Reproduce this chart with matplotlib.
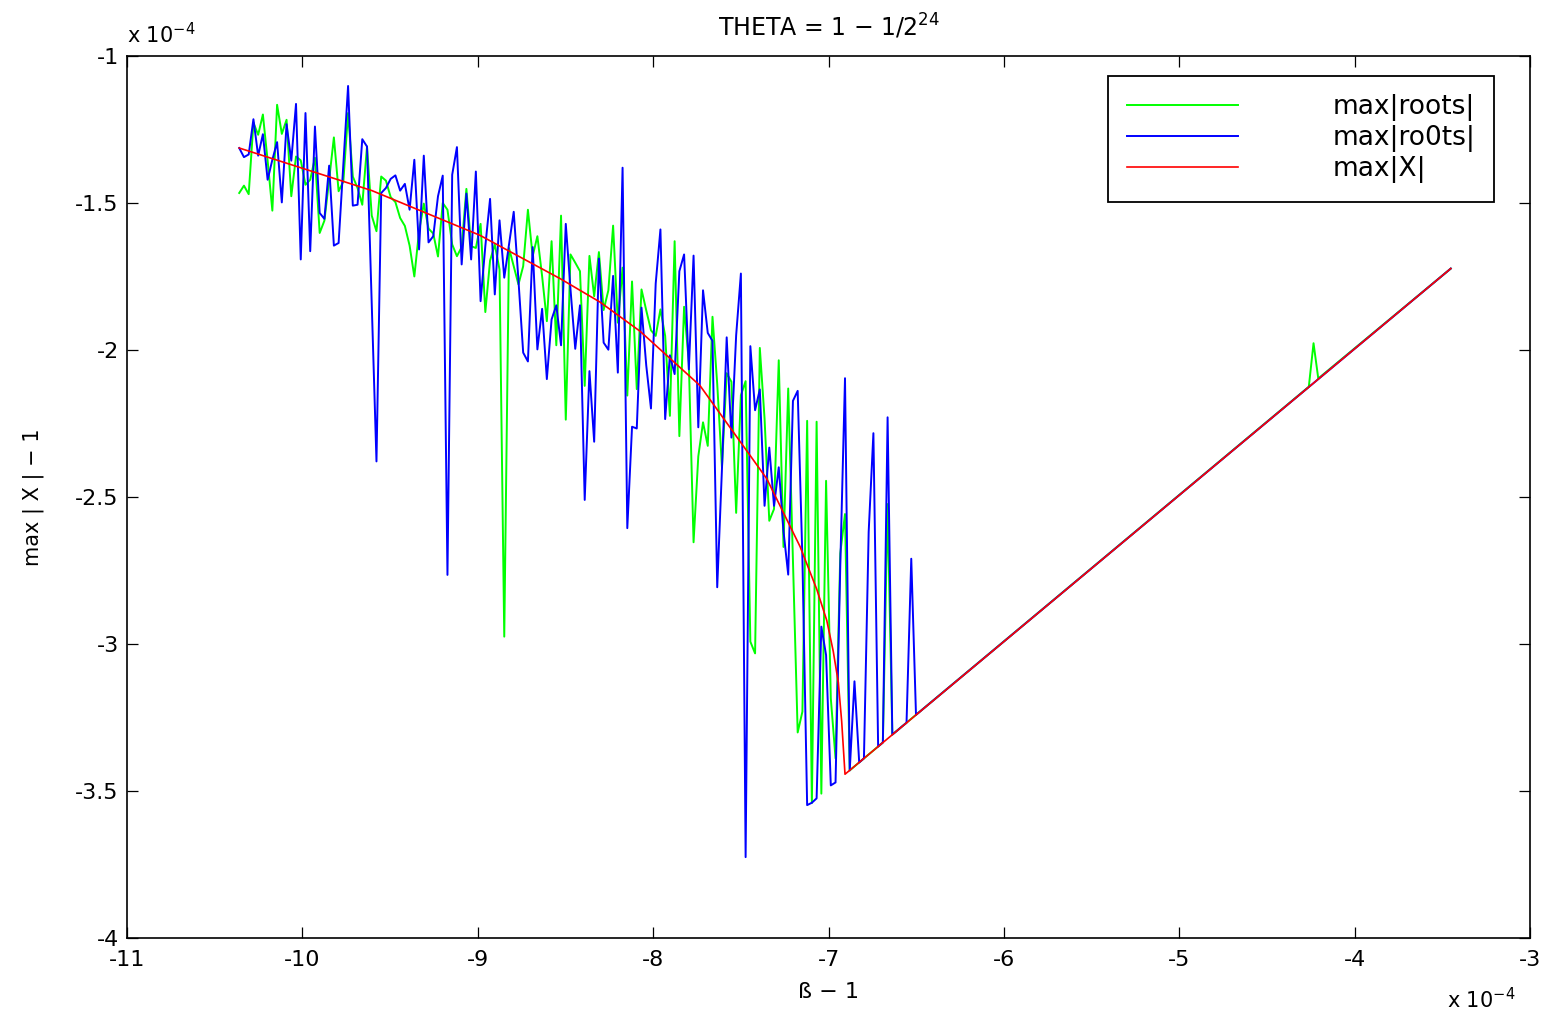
import numpy as np
import matplotlib
matplotlib.use('Agg')
import matplotlib.pyplot as plt

plt.rcParams['font.family'] = ['DejaVu Sans']
plt.rcParams['axes.unicode_minus'] = False
plt.rcParams['mathtext.default'] = 'regular'

# sample grid of (beta - 1), in units of 1e-4
beta = np.linspace(-10.36, -3.452, 257)

# max|roots| - 1 (green), first 129 samples
green_head = [
    -1.466, -1.441, -1.470, -1.227, -1.268, -1.199, -1.356, -1.526, -1.166, -1.265,
    -1.217, -1.477, -1.342, -1.355, -1.438, -1.421, -1.346, -1.602, -1.560, -1.421,
    -1.277, -1.460, -1.427, -1.194, -1.410, -1.449, -1.506, -1.308, -1.543, -1.596,
    -1.410, -1.424, -1.480, -1.497, -1.551, -1.578, -1.645, -1.750, -1.596, -1.502,
    -1.587, -1.604, -1.682, -1.500, -1.523, -1.641, -1.681, -1.650, -1.452, -1.647,
    -1.653, -1.571, -1.871, -1.696, -1.641, -1.726, -2.975, -1.653, -1.715, -1.777,
    -1.715, -1.523, -1.681, -1.613, -1.749, -1.902, -1.630, -1.984, -1.543, -2.237,
    -1.675, -1.703, -1.732, -2.122, -1.680, -1.817, -1.667, -1.864, -1.797, -1.577,
    -1.907, -1.720, -2.155, -1.767, -2.133, -1.794, -1.865, -1.933, -1.952, -1.862,
    -1.952, -2.224, -1.630, -2.293, -1.853, -2.043, -2.654, -2.362, -2.246, -2.326,
    -1.887, -2.116, -2.399, -2.079, -2.108, -2.554, -2.154, -2.106, -2.992, -3.032,
    -1.993, -2.233, -2.581, -2.541, -2.035, -2.670, -2.131, -2.714, -3.301, -3.230,
    -2.241, -3.541, -2.244, -3.509, -2.445, -3.185, -3.389, -2.692, -2.558,
]
# remaining green samples that matter (rest lie on the straight part)
green_tail_idx = [129, 136, 137, 138, 226, 227, 228, 256]
green_tail = [-3.430, -3.335, -2.524, -3.308, -2.125, -1.977, -2.097, -1.723]

# max|ro0ts| - 1 (blue), first 144 samples
blue_head = [
    -1.313, -1.344, -1.335, -1.215, -1.339, -1.266, -1.421, -1.353, -1.293, -1.498,
    -1.232, -1.356, -1.163, -1.692, -1.194, -1.664, -1.240, -1.534, -1.554, -1.373,
    -1.645, -1.636, -1.370, -1.102, -1.509, -1.506, -1.283, -1.308, -1.845, -2.379,
    -1.466, -1.449, -1.418, -1.406, -1.458, -1.435, -1.523, -1.353, -1.658, -1.339,
    -1.634, -1.613, -1.477, -1.407, -2.765, -1.404, -1.310, -1.709, -1.468, -1.692,
    -1.393, -1.834, -1.647, -1.486, -1.811, -1.559, -1.754, -1.641, -1.530, -1.763,
    -2.009, -2.039, -1.650, -1.998, -1.860, -2.099, -1.896, -1.848, -1.984, -1.571,
    -1.794, -1.996, -1.848, -2.510, -2.072, -2.312, -1.689, -1.975, -1.999, -1.748,
    -2.077, -1.380, -2.606, -2.261, -2.267, -1.856, -2.052, -2.199, -1.774, -1.590,
    -2.235, -2.018, -2.082, -1.732, -1.675, -2.066, -1.679, -2.263, -1.797, -1.942,
    -1.969, -2.807, -2.405, -1.957, -2.298, -1.950, -1.740, -3.725, -1.987, -2.205,
    -2.134, -2.530, -2.332, -2.530, -2.399, -2.616, -2.764, -2.173, -2.139, -2.710,
    -3.548, -3.540, -3.525, -2.941, -3.038, -3.481, -3.471, -2.734, -2.096, -3.430,
    -3.127, -3.403, -3.389, -2.619, -2.283, -3.349, -3.335, -2.229, -3.308, -3.295,
    -3.281, -3.268, -2.710, -3.241,
]
blue_tail_idx = [256]
blue_tail = [-1.723]

# max|X| - 1 (red)
red_beta = [-10.36, -9.785, -9.603, -8.987, -8.873, -8.531, -8.303, -8.075, -7.733,
            -7.543, -7.352, -7.162, -7.067, -7.010, -6.973, -6.944, -6.925, -6.906, -3.452]
red_val = [-1.313, -1.423, -1.458, -1.610, -1.647, -1.757, -1.837, -1.936, -2.121,
           -2.279, -2.438, -2.669, -2.814, -2.920, -3.025, -3.131, -3.263, -3.443, -1.723]

green_x = np.concatenate([beta[:len(green_head)], beta[green_tail_idx]])
green_y = np.concatenate([green_head, green_tail])
blue_x = np.concatenate([beta[:len(blue_head)], beta[blue_tail_idx]])
blue_y = np.concatenate([blue_head, blue_tail])

fig = plt.figure(figsize=(15.41, 10.18), dpi=100)
ax = fig.add_axes([0.0824, 0.0786, 0.9105, 0.8664])

ax.plot(green_x, green_y, color=(0, 1, 0), lw=1.4, label='max|roots|')
ax.plot(blue_x, blue_y, color=(0, 0, 1), lw=1.4, label='max|ro0ts|')
ax.plot(red_beta, red_val, color=(1, 0, 0), lw=1.2, label='max|X|')

ax.set_xlim(-11, -3)
ax.set_ylim(-4, -1)
ax.set_xticks(np.arange(-11, -2, 1))
ax.set_yticks(np.arange(-4, -0.9, 0.5))
ax.set_xticklabels(['%g' % v for v in np.arange(-11, -2, 1)])
ax.set_yticklabels(['%g' % v for v in np.arange(-4, -0.9, 0.5)])
ax.tick_params(direction='in', length=8, width=0.9, top=True, right=True,
               labelsize=16)
ax.tick_params(axis='y', pad=6)
ax.tick_params(axis='x', pad=9)
for s in ax.spines.values():
    s.set_linewidth(1.2)

ax.set_title('THETA = 1 \u2212 1/2$^{24}$', fontsize=17, pad=14)
ax.set_xlabel('\u00df \u2212 1', fontsize=16)
ax.set_ylabel('max | X | \u2212 1', fontsize=15)
ax.xaxis.set_label_coords(0.5, -0.05)
ax.yaxis.set_label_coords(-0.059, 0.5)

fig.text(127 / 1541, 1 - 43 / 1018, 'x 10$^{-4}$', fontsize=15, va='baseline')
fig.text(1447 / 1541, 1 - 1008 / 1018, 'x 10$^{-4}$', fontsize=15, va='baseline')

leg = ax.legend(loc='upper right', bbox_to_anchor=(0.9743, 0.9773), fontsize=19,
                handlelength=4.2, handletextpad=3.6, labelspacing=0.15,
                borderpad=0.7, borderaxespad=0, fancybox=False, framealpha=1)
leg.get_frame().set_edgecolor('black')
leg.get_frame().set_linewidth(1.3)

fig.savefig('out.png', dpi=100)
